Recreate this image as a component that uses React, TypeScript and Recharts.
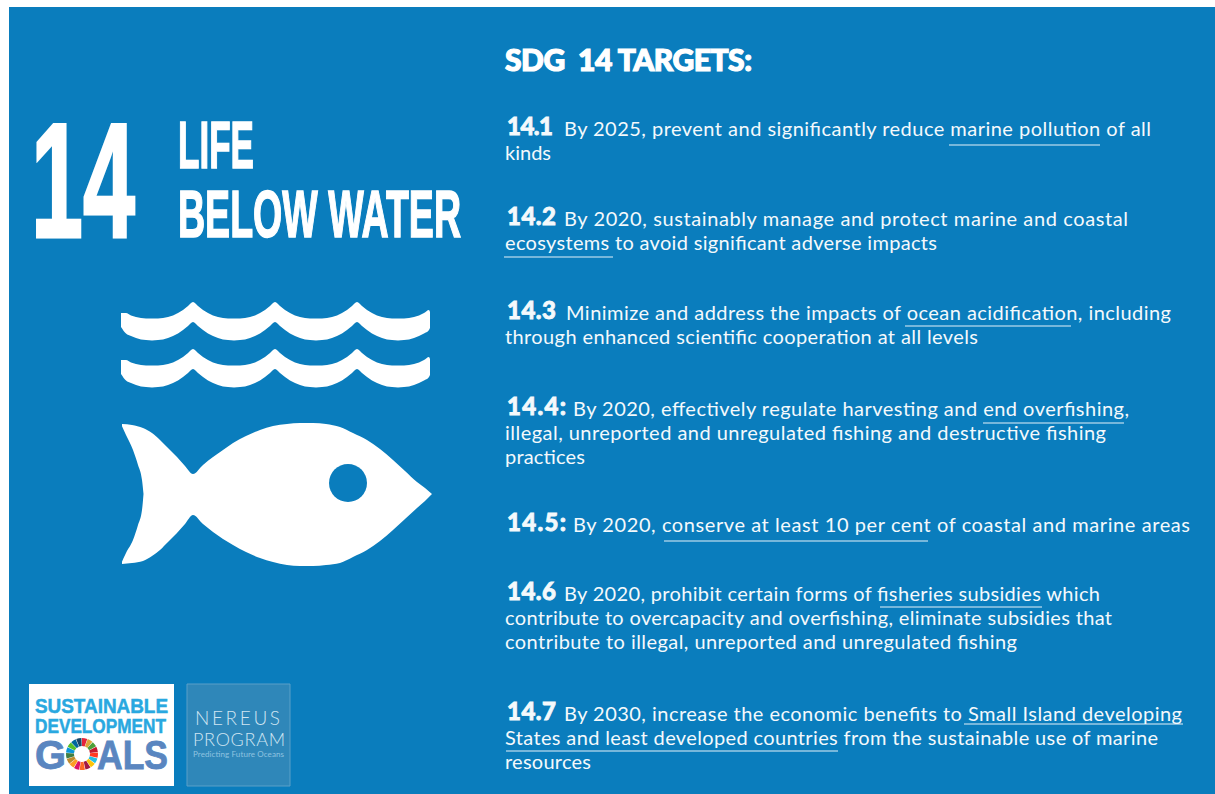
import {
  Area, Cell, ComposedChart, Pie, PieChart, ReferenceArea, ReferenceDot, ReferenceLine, Scatter, XAxis, YAxis,
} from 'recharts'

const WIDTH = 1215
const HEIGHT = 794
const BLUE = '#0a7dbd'
const TEXT_WHITE = '#f4f9fc'

// Left hand heading
const goalNumber = '14'
const goalLines = ['LIFE', 'BELOW WATER']

// Right hand text
const heading = 'SDG  14 TARGETS:'
const targetIds = ['14.1', '14.2', '14.3', '14.4:', '14.5:', '14.6', '14.7']
const targetFirstLines = [
  'By 2025, prevent and significantly reduce marine pollution of all',
  'By 2020, sustainably manage and protect marine and coastal',
  'Minimize and address the impacts of ocean acidification, including',
  'By 2020, effectively regulate harvesting and end overfishing,',
  'By 2020, conserve at least 10 per cent of coastal and marine areas',
  'By 2020, prohibit certain forms of fisheries subsidies which',
  'By 2030, increase the economic benefits to Small Island developing',
]
const targetMoreLines = [
  ['kinds'],
  ['ecosystems to avoid significant adverse impacts'],
  ['through enhanced scientific cooperation at all levels'],
  ['illegal, unreported and unregulated fishing and destructive fishing', 'practices'],
  [],
  ['contribute to overcapacity and overfishing, eliminate subsidies that', 'contribute to illegal, unreported and unregulated fishing'],
  ['States and least developed countries from the sustainable use of marine', 'resources'],
]

// Layout of the text, one entry per target
const idEnds = [553, 556, 556, 566, 566, 556, 556]
const firstStarts = [564, 564, 566, 573, 573, 564, 564]
const firstEnds = [1151, 1128, 1171, 1129, 1190, 1100, 1182]
const baselines = [136, 226, 320, 416, 532, 601, 721]
const moreEnds = [[551], [937], [978], [1106, 585], [], [1112, 1017], [1158, 591]]
const LINE_STEP = 24
const TEXT_LEFT = 505

// Underlined phrases: start, end, height
const underlineStarts = [949, 504, 905, 983, 664, 880, 964, 506]
const underlineEnds = [1100, 613, 1071, 1124, 928, 1042, 1183, 838]
const underlineRows = [145, 257, 326, 423, 541, 607, 724, 751]

// One wave arc, measured from its crest outwards
const arcOffsets = [0, 5, 10, 15, 20, 25, 30, 35, 41]
const arcTop = [302, 306, 310, 313, 315.5, 317, 318, 318.5, 318.5]
const arcBottom = [322, 326, 330, 333.5, 336, 338, 339.5, 340, 340.5]
const crestX = [111, 193, 275, 357, 439]
const waveLeftEnd = { x: 121, top: 313, bottom: 327 }
const waveRightEnd = { x: 430, top: 312, bottom: 328 }
const waveRowGap = 47

// Fish outline
const fishX = [122, 132, 143, 152, 160, 168, 177, 185, 193, 203, 213, 223, 233, 246, 260, 273, 287, 300, 313, 326, 340, 353, 367, 380, 393, 405, 417, 425, 432]
const fishTop = [424, 425, 428, 433, 440, 448, 457, 466, 474, 465, 457, 450, 443, 436, 430, 426, 424, 423, 423, 424, 427, 433, 440, 449, 460, 471, 482, 488, 494]
const fishBottom = [564, 563, 561, 556, 550, 542, 533, 524, 515, 524, 532, 539, 545, 552, 558, 562, 565, 566, 566, 565, 563, 557, 550, 541, 530, 519, 508, 501, 494]
const tailX = [121, 126, 133, 138, 142, 143.5]
const tailTop = [424, 435, 450, 465, 480, 494]
const tailBottom = [564, 553, 540, 525, 510, 494]

// 17 goals wheel in the logo
const wheelColors = [
  '#e5243b', '#dda63a', '#4c9f38', '#c5192d', '#ff3a21', '#26bde2', '#fcc30b', '#a21942', '#fd6925',
  '#dd1367', '#fd9d24', '#bf8b2e', '#3f7e44', '#0a97d9', '#56c02b', '#00689d', '#19486a',
]
const wheelData = wheelColors.map(color => ({ color, share: 1 }))

type Mark = {
  x: number
  y: number
  text: string
  end: number
  size: number
  weight?: number
  family?: string
  fill?: string
  squeeze?: boolean
  stroke?: number
}

const BODY = 'Lato, sans-serif'
const CONDENSED = '"Liberation Sans Narrow", "Liberation Sans", sans-serif'
const LOGO = '"Liberation Sans", sans-serif'

const targetMarks: Mark[] = targetIds.flatMap((id, i) => [
  { x: 507, y: baselines[i] - 1, text: id, end: idEnds[i], size: 24, weight: 900, family: BODY, fill: TEXT_WHITE, stroke: 0.8 },
  { x: firstStarts[i], y: baselines[i], text: targetFirstLines[i], end: firstEnds[i], size: 20, family: BODY, fill: TEXT_WHITE },
  ...targetMoreLines[i].map((text, j) => ({
    x: TEXT_LEFT, y: baselines[i] + LINE_STEP * (j + 1), text, end: moreEnds[i][j], size: 20, family: BODY, fill: TEXT_WHITE,
  })),
])

const titleMarks: Mark[] = [
  { x: 505, y: 71, text: heading, end: 752, size: 30, weight: 900, family: BODY, fill: '#ffffff', stroke: 1.2 },
  { x: 31, y: 237, text: goalNumber, end: 135, size: 163, weight: 700, family: CONDENSED, fill: '#ffffff', squeeze: true, stroke: 3 },
  { x: 178, y: 168, text: goalLines[0], end: 254, size: 66, weight: 700, family: CONDENSED, fill: '#ffffff', squeeze: true, stroke: 1.5 },
  { x: 178, y: 237, text: goalLines[1], end: 461, size: 66, weight: 700, family: CONDENSED, fill: '#ffffff', squeeze: true, stroke: 1.5 },
]

const logoMarks: Mark[] = [
  { x: 35, y: 713, text: 'SUSTAINABLE', end: 168, size: 21, weight: 700, family: LOGO, fill: '#29a8e0', squeeze: true, stroke: 0.5 },
  { x: 35, y: 733, text: 'DEVELOPMENT', end: 166, size: 20, weight: 700, family: LOGO, fill: '#29a8e0', squeeze: true, stroke: 0.5 },
  { x: 35, y: 769, text: 'G', end: 66, size: 40, weight: 700, family: LOGO, fill: '#5a86c0', squeeze: true, stroke: 0.8 },
  { x: 97, y: 769, text: 'ALS', end: 168, size: 40, weight: 700, family: LOGO, fill: '#5a86c0', squeeze: true, stroke: 0.8 },
  { x: 195, y: 725, text: 'NEREUS', end: 280, size: 19, weight: 300, family: BODY, fill: '#cfe5f2' },
  { x: 193, y: 746, text: 'PROGRAM', end: 285, size: 18, weight: 300, family: BODY, fill: '#cfe5f2' },
  { x: 193, y: 757, text: 'Predicting Future Oceans', end: 284, size: 8, family: BODY, fill: '#8fc3e0' },
]

const allMarks = [...titleMarks, ...targetMarks, ...logoMarks]

// crests are cusps, so each side of every crest is walked out along the arc
const waveRow = (gap: number) => {
  const inner = crestX.flatMap(crest => [
    ...arcOffsets.slice(1).reverse().map((d, k) => ({ x: crest - d, top: arcTop[arcOffsets.length - 1 - k], bottom: arcBottom[arcOffsets.length - 1 - k] })),
    { x: crest, top: arcTop[0], bottom: arcBottom[0] },
    ...arcOffsets.slice(1).map((d, k) => ({ x: crest + d, top: arcTop[k + 1], bottom: arcBottom[k + 1] })),
  ]).filter(p => p.x > waveLeftEnd.x && p.x < waveRightEnd.x)
  return [waveLeftEnd, ...inner, waveRightEnd].map(p => ({ x: p.x, band: [p.top + gap, p.bottom + gap] }))
}
const fishData = fishX.map((x, i) => ({ x, band: [fishTop[i], fishBottom[i]] }))
const tailData = tailX.map((x, i) => ({ x, band: [tailTop[i], tailBottom[i]] }))

function TextMark(props: any) {
  const { cx, cy, payload } = props
  const m = payload as Mark
  return (
    <text
      x={cx}
      y={cy}
      fontFamily={m.family}
      fontSize={m.size}
      fontWeight={m.weight ?? 400}
      fill={m.fill}
      stroke={m.stroke ? m.fill : 'none'}
      strokeWidth={m.stroke ?? 0}
      textLength={m.end - m.x}
      lengthAdjust={m.squeeze ? 'spacingAndGlyphs' : 'spacing'}
      style={{ whiteSpace: 'pre' }}
    >
      {m.text}
    </text>
  )
}

export default function App() {
  return (
    <div style={{ position: 'absolute', left: 0, top: 0, width: WIDTH, height: HEIGHT, overflow: 'hidden', background: '#fff' }}>
      <ComposedChart width={WIDTH} height={HEIGHT} margin={{ top: 0, right: 0, bottom: 0, left: 0 }}>
        <XAxis dataKey="x" type="number" domain={[0, WIDTH]} hide />
        <YAxis dataKey="y" type="number" domain={[0, HEIGHT]} reversed hide />

        <ReferenceArea x1={9} x2={WIDTH} y1={7} y2={HEIGHT} fill={BLUE} fillOpacity={1} stroke="none" />
        <ReferenceArea x1={29} x2={174} y1={684} y2={786} fill="#ffffff" fillOpacity={1} stroke="none" />
        <ReferenceArea x1={187} x2={290} y1={684} y2={786} fill="#2f87b9" fillOpacity={1} stroke="#5aa0c8" />

        <Area data={waveRow(0)} dataKey="band" type="monotone" fill="#ffffff" fillOpacity={1} stroke="none" dot={false} activeDot={false} isAnimationActive={false} />
        <Area data={waveRow(waveRowGap)} dataKey="band" type="monotone" fill="#ffffff" fillOpacity={1} stroke="none" dot={false} activeDot={false} isAnimationActive={false} />
        <Area data={fishData} dataKey="band" type="monotone" fill="#ffffff" fillOpacity={1} stroke="none" dot={false} activeDot={false} isAnimationActive={false} />
        <Area data={tailData} dataKey="band" type="monotone" fill={BLUE} fillOpacity={1} stroke="none" dot={false} activeDot={false} isAnimationActive={false} />
        <ReferenceDot x={348} y={483} r={19} fill={BLUE} stroke="none" />

        {underlineStarts.map((start, i) => (
          <ReferenceLine
            key={i}
            segment={[{ x: start, y: underlineRows[i] }, { x: underlineEnds[i], y: underlineRows[i] }]}
            stroke="#9ccbe6"
            strokeWidth={1.5}
          />
        ))}

        <Scatter data={allMarks} dataKey="y" shape={TextMark} isAnimationActive={false} />
      </ComposedChart>

      {/* colour wheel inside the logo */}
      <div style={{ position: 'absolute', left: 62, top: 734, width: 40, height: 40 }}>
        <PieChart width={40} height={40} margin={{ top: 0, right: 0, bottom: 0, left: 0 }}>
          <Pie data={wheelData} dataKey="share" cx={20} cy={20} innerRadius={8} outerRadius={16} startAngle={90} endAngle={-270} paddingAngle={2} stroke="none" isAnimationActive={false}>
            {wheelData.map(d => <Cell key={d.color} fill={d.color} />)}
          </Pie>
        </PieChart>
      </div>
    </div>
  )
}
